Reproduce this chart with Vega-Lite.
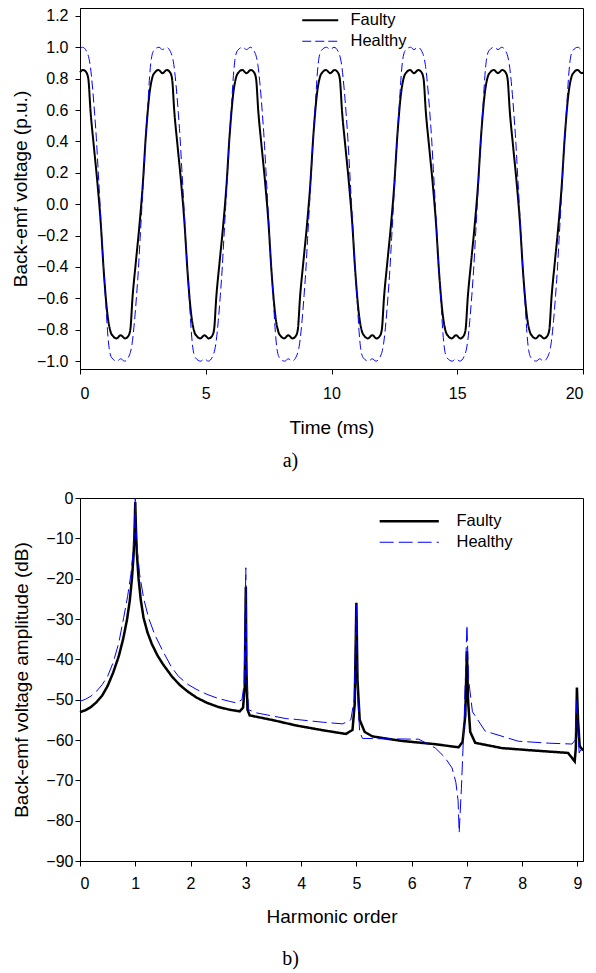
{
"$schema": "https://vega.github.io/schema/vega-lite/v6.json",
"padding": {"left": 10, "top": 7, "right": 8, "bottom": 5},
"bounds": "flush",
"spacing": 129,
"config": {
  "font": "Liberation Sans",
  "view": {"stroke": "#000000", "strokeWidth": 1},
  "axis": {"grid": false, "domainColor": "#000000", "tickColor": "#000000", "labelColor": "#000000", "titleColor": "#000000", "labelFont": "Liberation Sans", "titleFont": "Liberation Sans", "titleFontWeight": "normal", "labelFontSize": 16, "titleFontSize": 19, "tickSize": 5, "labelPadding": 7, "titlePadding": 6},
  "legend": {"orient": "none", "title": null, "labelFont": "Liberation Sans", "labelFontSize": 16.5, "labelColor": "#000000", "padding": 0, "rowPadding": 4}
},
"datasets": {
"wave": [
{"t":0,"v":0.84,"s":"Faulty"},{"t":0.12,"v":0.855,"s":"Faulty"},{"t":0.25,"v":0.84,"s":"Faulty"},{"t":0.33,"v":0.8,"s":"Faulty"},{"t":0.42,"v":0.59,"s":"Faulty"},{"t":0.55,"v":0.37,"s":"Faulty"},{"t":0.69,"v":0.14,"s":"Faulty"},{"t":0.82,"v":-0.11,"s":"Faulty"},{"t":0.95,"v":-0.44,"s":"Faulty"},{"t":1.09,"v":-0.7,"s":"Faulty"},{"t":1.22,"v":-0.815,"s":"Faulty"},{"t":1.31,"v":-0.84,"s":"Faulty"},{"t":1.45,"v":-0.855,"s":"Faulty"},{"t":1.62,"v":-0.835,"s":"Faulty"},{"t":1.79,"v":-0.855,"s":"Faulty"},{"t":1.92,"v":-0.84,"s":"Faulty"},{"t":2.0,"v":-0.8,"s":"Faulty"},{"t":2.09,"v":-0.59,"s":"Faulty"},{"t":2.22,"v":-0.37,"s":"Faulty"},{"t":2.36,"v":-0.14,"s":"Faulty"},{"t":2.49,"v":0.11,"s":"Faulty"},{"t":2.62,"v":0.44,"s":"Faulty"},{"t":2.76,"v":0.7,"s":"Faulty"},{"t":2.89,"v":0.815,"s":"Faulty"},{"t":2.98,"v":0.84,"s":"Faulty"},{"t":3.12,"v":0.855,"s":"Faulty"},
{"t":3.28,"v":0.835,"s":"Faulty"},{"t":3.45,"v":0.855,"s":"Faulty"},{"t":3.58,"v":0.84,"s":"Faulty"},{"t":3.66,"v":0.8,"s":"Faulty"},{"t":3.75,"v":0.59,"s":"Faulty"},{"t":3.88,"v":0.37,"s":"Faulty"},{"t":4.02,"v":0.14,"s":"Faulty"},{"t":4.15,"v":-0.11,"s":"Faulty"},{"t":4.28,"v":-0.44,"s":"Faulty"},{"t":4.42,"v":-0.7,"s":"Faulty"},{"t":4.55,"v":-0.815,"s":"Faulty"},{"t":4.64,"v":-0.84,"s":"Faulty"},{"t":4.78,"v":-0.855,"s":"Faulty"},{"t":4.95,"v":-0.835,"s":"Faulty"},{"t":5.12,"v":-0.855,"s":"Faulty"},{"t":5.25,"v":-0.84,"s":"Faulty"},{"t":5.33,"v":-0.8,"s":"Faulty"},{"t":5.42,"v":-0.59,"s":"Faulty"},{"t":5.55,"v":-0.37,"s":"Faulty"},{"t":5.69,"v":-0.14,"s":"Faulty"},{"t":5.82,"v":0.11,"s":"Faulty"},{"t":5.95,"v":0.44,"s":"Faulty"},{"t":6.09,"v":0.7,"s":"Faulty"},{"t":6.22,"v":0.815,"s":"Faulty"},{"t":6.31,"v":0.84,"s":"Faulty"},{"t":6.45,"v":0.855,"s":"Faulty"},
{"t":6.62,"v":0.835,"s":"Faulty"},{"t":6.79,"v":0.855,"s":"Faulty"},{"t":6.92,"v":0.84,"s":"Faulty"},{"t":7.0,"v":0.8,"s":"Faulty"},{"t":7.09,"v":0.59,"s":"Faulty"},{"t":7.22,"v":0.37,"s":"Faulty"},{"t":7.36,"v":0.14,"s":"Faulty"},{"t":7.49,"v":-0.11,"s":"Faulty"},{"t":7.62,"v":-0.44,"s":"Faulty"},{"t":7.76,"v":-0.7,"s":"Faulty"},{"t":7.89,"v":-0.815,"s":"Faulty"},{"t":7.98,"v":-0.84,"s":"Faulty"},{"t":8.12,"v":-0.855,"s":"Faulty"},{"t":8.28,"v":-0.835,"s":"Faulty"},{"t":8.45,"v":-0.855,"s":"Faulty"},{"t":8.58,"v":-0.84,"s":"Faulty"},{"t":8.66,"v":-0.8,"s":"Faulty"},{"t":8.75,"v":-0.59,"s":"Faulty"},{"t":8.88,"v":-0.37,"s":"Faulty"},{"t":9.02,"v":-0.14,"s":"Faulty"},{"t":9.15,"v":0.11,"s":"Faulty"},{"t":9.28,"v":0.44,"s":"Faulty"},{"t":9.42,"v":0.7,"s":"Faulty"},{"t":9.55,"v":0.815,"s":"Faulty"},{"t":9.64,"v":0.84,"s":"Faulty"},{"t":9.78,"v":0.855,"s":"Faulty"},
{"t":9.95,"v":0.835,"s":"Faulty"},{"t":10.12,"v":0.855,"s":"Faulty"},{"t":10.25,"v":0.84,"s":"Faulty"},{"t":10.33,"v":0.8,"s":"Faulty"},{"t":10.42,"v":0.59,"s":"Faulty"},{"t":10.55,"v":0.37,"s":"Faulty"},{"t":10.69,"v":0.14,"s":"Faulty"},{"t":10.82,"v":-0.11,"s":"Faulty"},{"t":10.95,"v":-0.44,"s":"Faulty"},{"t":11.09,"v":-0.7,"s":"Faulty"},{"t":11.22,"v":-0.815,"s":"Faulty"},{"t":11.31,"v":-0.84,"s":"Faulty"},{"t":11.45,"v":-0.855,"s":"Faulty"},{"t":11.62,"v":-0.835,"s":"Faulty"},{"t":11.79,"v":-0.855,"s":"Faulty"},{"t":11.92,"v":-0.84,"s":"Faulty"},{"t":12.0,"v":-0.8,"s":"Faulty"},{"t":12.09,"v":-0.59,"s":"Faulty"},{"t":12.22,"v":-0.37,"s":"Faulty"},{"t":12.36,"v":-0.14,"s":"Faulty"},{"t":12.49,"v":0.11,"s":"Faulty"},{"t":12.62,"v":0.44,"s":"Faulty"},{"t":12.76,"v":0.7,"s":"Faulty"},{"t":12.89,"v":0.815,"s":"Faulty"},{"t":12.98,"v":0.84,"s":"Faulty"},{"t":13.12,"v":0.855,"s":"Faulty"},
{"t":13.28,"v":0.835,"s":"Faulty"},{"t":13.45,"v":0.855,"s":"Faulty"},{"t":13.58,"v":0.84,"s":"Faulty"},{"t":13.66,"v":0.8,"s":"Faulty"},{"t":13.75,"v":0.59,"s":"Faulty"},{"t":13.88,"v":0.37,"s":"Faulty"},{"t":14.02,"v":0.14,"s":"Faulty"},{"t":14.15,"v":-0.11,"s":"Faulty"},{"t":14.28,"v":-0.44,"s":"Faulty"},{"t":14.42,"v":-0.7,"s":"Faulty"},{"t":14.55,"v":-0.815,"s":"Faulty"},{"t":14.64,"v":-0.84,"s":"Faulty"},{"t":14.78,"v":-0.855,"s":"Faulty"},{"t":14.95,"v":-0.835,"s":"Faulty"},{"t":15.12,"v":-0.855,"s":"Faulty"},{"t":15.25,"v":-0.84,"s":"Faulty"},{"t":15.33,"v":-0.8,"s":"Faulty"},{"t":15.42,"v":-0.59,"s":"Faulty"},{"t":15.55,"v":-0.37,"s":"Faulty"},{"t":15.69,"v":-0.14,"s":"Faulty"},{"t":15.82,"v":0.11,"s":"Faulty"},{"t":15.95,"v":0.44,"s":"Faulty"},{"t":16.09,"v":0.7,"s":"Faulty"},{"t":16.22,"v":0.815,"s":"Faulty"},{"t":16.31,"v":0.84,"s":"Faulty"},{"t":16.45,"v":0.855,"s":"Faulty"},
{"t":16.62,"v":0.835,"s":"Faulty"},{"t":16.79,"v":0.855,"s":"Faulty"},{"t":16.92,"v":0.84,"s":"Faulty"},{"t":17.0,"v":0.8,"s":"Faulty"},{"t":17.09,"v":0.59,"s":"Faulty"},{"t":17.22,"v":0.37,"s":"Faulty"},{"t":17.36,"v":0.14,"s":"Faulty"},{"t":17.49,"v":-0.11,"s":"Faulty"},{"t":17.62,"v":-0.44,"s":"Faulty"},{"t":17.76,"v":-0.7,"s":"Faulty"},{"t":17.89,"v":-0.815,"s":"Faulty"},{"t":17.98,"v":-0.84,"s":"Faulty"},{"t":18.12,"v":-0.855,"s":"Faulty"},{"t":18.28,"v":-0.835,"s":"Faulty"},{"t":18.45,"v":-0.855,"s":"Faulty"},{"t":18.58,"v":-0.84,"s":"Faulty"},{"t":18.66,"v":-0.8,"s":"Faulty"},{"t":18.75,"v":-0.59,"s":"Faulty"},{"t":18.88,"v":-0.37,"s":"Faulty"},{"t":19.02,"v":-0.14,"s":"Faulty"},{"t":19.15,"v":0.11,"s":"Faulty"},{"t":19.28,"v":0.44,"s":"Faulty"},{"t":19.42,"v":0.7,"s":"Faulty"},{"t":19.55,"v":0.815,"s":"Faulty"},{"t":19.64,"v":0.84,"s":"Faulty"},{"t":19.78,"v":0.855,"s":"Faulty"},{"t":19.95,"v":0.835,"s":"Faulty"},{"t":20,"v":0.84,"s":"Faulty"},
{"t":0,"v":0.99,"s":"Healthy"},{"t":0.1,"v":1.0,"s":"Healthy"},{"t":0.3,"v":0.96,"s":"Healthy"},{"t":0.4,"v":0.89,"s":"Healthy"},{"t":0.5,"v":0.74,"s":"Healthy"},{"t":0.58,"v":0.58,"s":"Healthy"},{"t":0.65,"v":0.42,"s":"Healthy"},{"t":0.72,"v":0.22,"s":"Healthy"},{"t":0.79,"v":0.02,"s":"Healthy"},{"t":0.87,"v":-0.22,"s":"Healthy"},{"t":0.95,"v":-0.44,"s":"Healthy"},{"t":1.03,"v":-0.64,"s":"Healthy"},{"t":1.1,"v":-0.82,"s":"Healthy"},{"t":1.17,"v":-0.93,"s":"Healthy"},{"t":1.27,"v":-0.98,"s":"Healthy"},{"t":1.47,"v":-1.0,"s":"Healthy"},{"t":1.62,"v":-0.985,"s":"Healthy"},{"t":1.77,"v":-1.0,"s":"Healthy"},{"t":1.97,"v":-0.96,"s":"Healthy"},{"t":2.07,"v":-0.89,"s":"Healthy"},{"t":2.17,"v":-0.74,"s":"Healthy"},{"t":2.25,"v":-0.58,"s":"Healthy"},{"t":2.32,"v":-0.42,"s":"Healthy"},{"t":2.39,"v":-0.22,"s":"Healthy"},{"t":2.46,"v":-0.02,"s":"Healthy"},{"t":2.54,"v":0.22,"s":"Healthy"},{"t":2.62,"v":0.44,"s":"Healthy"},{"t":2.7,"v":0.64,"s":"Healthy"},{"t":2.77,"v":0.82,"s":"Healthy"},{"t":2.84,"v":0.93,"s":"Healthy"},{"t":2.94,"v":0.98,"s":"Healthy"},{"t":3.14,"v":1.0,"s":"Healthy"},
{"t":3.28,"v":0.985,"s":"Healthy"},{"t":3.43,"v":1.0,"s":"Healthy"},{"t":3.63,"v":0.96,"s":"Healthy"},{"t":3.73,"v":0.89,"s":"Healthy"},{"t":3.83,"v":0.74,"s":"Healthy"},{"t":3.91,"v":0.58,"s":"Healthy"},{"t":3.98,"v":0.42,"s":"Healthy"},{"t":4.05,"v":0.22,"s":"Healthy"},{"t":4.12,"v":0.02,"s":"Healthy"},{"t":4.2,"v":-0.22,"s":"Healthy"},{"t":4.28,"v":-0.44,"s":"Healthy"},{"t":4.36,"v":-0.64,"s":"Healthy"},{"t":4.43,"v":-0.82,"s":"Healthy"},{"t":4.5,"v":-0.93,"s":"Healthy"},{"t":4.6,"v":-0.98,"s":"Healthy"},{"t":4.8,"v":-1.0,"s":"Healthy"},{"t":4.95,"v":-0.985,"s":"Healthy"},{"t":5.1,"v":-1.0,"s":"Healthy"},{"t":5.3,"v":-0.96,"s":"Healthy"},{"t":5.4,"v":-0.89,"s":"Healthy"},{"t":5.5,"v":-0.74,"s":"Healthy"},{"t":5.58,"v":-0.58,"s":"Healthy"},{"t":5.65,"v":-0.42,"s":"Healthy"},{"t":5.72,"v":-0.22,"s":"Healthy"},{"t":5.79,"v":-0.02,"s":"Healthy"},{"t":5.87,"v":0.22,"s":"Healthy"},{"t":5.95,"v":0.44,"s":"Healthy"},{"t":6.03,"v":0.64,"s":"Healthy"},{"t":6.1,"v":0.82,"s":"Healthy"},{"t":6.17,"v":0.93,"s":"Healthy"},{"t":6.27,"v":0.98,"s":"Healthy"},{"t":6.47,"v":1.0,"s":"Healthy"},
{"t":6.62,"v":0.985,"s":"Healthy"},{"t":6.77,"v":1.0,"s":"Healthy"},{"t":6.97,"v":0.96,"s":"Healthy"},{"t":7.07,"v":0.89,"s":"Healthy"},{"t":7.17,"v":0.74,"s":"Healthy"},{"t":7.25,"v":0.58,"s":"Healthy"},{"t":7.32,"v":0.42,"s":"Healthy"},{"t":7.39,"v":0.22,"s":"Healthy"},{"t":7.46,"v":0.02,"s":"Healthy"},{"t":7.54,"v":-0.22,"s":"Healthy"},{"t":7.62,"v":-0.44,"s":"Healthy"},{"t":7.7,"v":-0.64,"s":"Healthy"},{"t":7.77,"v":-0.82,"s":"Healthy"},{"t":7.84,"v":-0.93,"s":"Healthy"},{"t":7.94,"v":-0.98,"s":"Healthy"},{"t":8.14,"v":-1.0,"s":"Healthy"},{"t":8.28,"v":-0.985,"s":"Healthy"},{"t":8.43,"v":-1.0,"s":"Healthy"},{"t":8.63,"v":-0.96,"s":"Healthy"},{"t":8.73,"v":-0.89,"s":"Healthy"},{"t":8.83,"v":-0.74,"s":"Healthy"},{"t":8.91,"v":-0.58,"s":"Healthy"},{"t":8.98,"v":-0.42,"s":"Healthy"},{"t":9.05,"v":-0.22,"s":"Healthy"},{"t":9.12,"v":-0.02,"s":"Healthy"},{"t":9.2,"v":0.22,"s":"Healthy"},{"t":9.28,"v":0.44,"s":"Healthy"},{"t":9.36,"v":0.64,"s":"Healthy"},{"t":9.43,"v":0.82,"s":"Healthy"},{"t":9.5,"v":0.93,"s":"Healthy"},{"t":9.6,"v":0.98,"s":"Healthy"},{"t":9.8,"v":1.0,"s":"Healthy"},
{"t":9.95,"v":0.985,"s":"Healthy"},{"t":10.1,"v":1.0,"s":"Healthy"},{"t":10.3,"v":0.96,"s":"Healthy"},{"t":10.4,"v":0.89,"s":"Healthy"},{"t":10.5,"v":0.74,"s":"Healthy"},{"t":10.58,"v":0.58,"s":"Healthy"},{"t":10.65,"v":0.42,"s":"Healthy"},{"t":10.72,"v":0.22,"s":"Healthy"},{"t":10.79,"v":0.02,"s":"Healthy"},{"t":10.87,"v":-0.22,"s":"Healthy"},{"t":10.95,"v":-0.44,"s":"Healthy"},{"t":11.03,"v":-0.64,"s":"Healthy"},{"t":11.1,"v":-0.82,"s":"Healthy"},{"t":11.17,"v":-0.93,"s":"Healthy"},{"t":11.27,"v":-0.98,"s":"Healthy"},{"t":11.47,"v":-1.0,"s":"Healthy"},{"t":11.62,"v":-0.985,"s":"Healthy"},{"t":11.77,"v":-1.0,"s":"Healthy"},{"t":11.97,"v":-0.96,"s":"Healthy"},{"t":12.07,"v":-0.89,"s":"Healthy"},{"t":12.17,"v":-0.74,"s":"Healthy"},{"t":12.25,"v":-0.58,"s":"Healthy"},{"t":12.32,"v":-0.42,"s":"Healthy"},{"t":12.39,"v":-0.22,"s":"Healthy"},{"t":12.46,"v":-0.02,"s":"Healthy"},{"t":12.54,"v":0.22,"s":"Healthy"},{"t":12.62,"v":0.44,"s":"Healthy"},{"t":12.7,"v":0.64,"s":"Healthy"},{"t":12.77,"v":0.82,"s":"Healthy"},{"t":12.84,"v":0.93,"s":"Healthy"},{"t":12.94,"v":0.98,"s":"Healthy"},{"t":13.14,"v":1.0,"s":"Healthy"},
{"t":13.28,"v":0.985,"s":"Healthy"},{"t":13.43,"v":1.0,"s":"Healthy"},{"t":13.63,"v":0.96,"s":"Healthy"},{"t":13.73,"v":0.89,"s":"Healthy"},{"t":13.83,"v":0.74,"s":"Healthy"},{"t":13.91,"v":0.58,"s":"Healthy"},{"t":13.98,"v":0.42,"s":"Healthy"},{"t":14.05,"v":0.22,"s":"Healthy"},{"t":14.12,"v":0.02,"s":"Healthy"},{"t":14.2,"v":-0.22,"s":"Healthy"},{"t":14.28,"v":-0.44,"s":"Healthy"},{"t":14.36,"v":-0.64,"s":"Healthy"},{"t":14.43,"v":-0.82,"s":"Healthy"},{"t":14.5,"v":-0.93,"s":"Healthy"},{"t":14.6,"v":-0.98,"s":"Healthy"},{"t":14.8,"v":-1.0,"s":"Healthy"},{"t":14.95,"v":-0.985,"s":"Healthy"},{"t":15.1,"v":-1.0,"s":"Healthy"},{"t":15.3,"v":-0.96,"s":"Healthy"},{"t":15.4,"v":-0.89,"s":"Healthy"},{"t":15.5,"v":-0.74,"s":"Healthy"},{"t":15.58,"v":-0.58,"s":"Healthy"},{"t":15.65,"v":-0.42,"s":"Healthy"},{"t":15.72,"v":-0.22,"s":"Healthy"},{"t":15.79,"v":-0.02,"s":"Healthy"},{"t":15.87,"v":0.22,"s":"Healthy"},{"t":15.95,"v":0.44,"s":"Healthy"},{"t":16.03,"v":0.64,"s":"Healthy"},{"t":16.1,"v":0.82,"s":"Healthy"},{"t":16.17,"v":0.93,"s":"Healthy"},{"t":16.27,"v":0.98,"s":"Healthy"},{"t":16.47,"v":1.0,"s":"Healthy"},
{"t":16.62,"v":0.985,"s":"Healthy"},{"t":16.77,"v":1.0,"s":"Healthy"},{"t":16.97,"v":0.96,"s":"Healthy"},{"t":17.07,"v":0.89,"s":"Healthy"},{"t":17.17,"v":0.74,"s":"Healthy"},{"t":17.25,"v":0.58,"s":"Healthy"},{"t":17.32,"v":0.42,"s":"Healthy"},{"t":17.39,"v":0.22,"s":"Healthy"},{"t":17.46,"v":0.02,"s":"Healthy"},{"t":17.54,"v":-0.22,"s":"Healthy"},{"t":17.62,"v":-0.44,"s":"Healthy"},{"t":17.7,"v":-0.64,"s":"Healthy"},{"t":17.77,"v":-0.82,"s":"Healthy"},{"t":17.84,"v":-0.93,"s":"Healthy"},{"t":17.94,"v":-0.98,"s":"Healthy"},{"t":18.14,"v":-1.0,"s":"Healthy"},{"t":18.28,"v":-0.985,"s":"Healthy"},{"t":18.43,"v":-1.0,"s":"Healthy"},{"t":18.63,"v":-0.96,"s":"Healthy"},{"t":18.73,"v":-0.89,"s":"Healthy"},{"t":18.83,"v":-0.74,"s":"Healthy"},{"t":18.91,"v":-0.58,"s":"Healthy"},{"t":18.98,"v":-0.42,"s":"Healthy"},{"t":19.05,"v":-0.22,"s":"Healthy"},{"t":19.12,"v":-0.02,"s":"Healthy"},{"t":19.2,"v":0.22,"s":"Healthy"},{"t":19.28,"v":0.44,"s":"Healthy"},{"t":19.36,"v":0.64,"s":"Healthy"},{"t":19.43,"v":0.82,"s":"Healthy"},{"t":19.5,"v":0.93,"s":"Healthy"},{"t":19.6,"v":0.98,"s":"Healthy"},{"t":19.8,"v":1.0,"s":"Healthy"},{"t":19.95,"v":0.985,"s":"Healthy"},{"t":20,"v":0.99,"s":"Healthy"}
],
"spec": [
{"h":0,"db":-53.1,"s":"Faulty"},{"h":0.1,"db":-52.6,"s":"Faulty"},{"h":0.2,"db":-51.8,"s":"Faulty"},{"h":0.3,"db":-50.6,"s":"Faulty"},{"h":0.4,"db":-49,"s":"Faulty"},{"h":0.5,"db":-46.6,"s":"Faulty"},{"h":0.6,"db":-43.3,"s":"Faulty"},{"h":0.7,"db":-39.3,"s":"Faulty"},{"h":0.78,"db":-35,"s":"Faulty"},{"h":0.85,"db":-30.2,"s":"Faulty"},{"h":0.9,"db":-25.5,"s":"Faulty"},{"h":0.94,"db":-20,"s":"Faulty"},{"h":0.97,"db":-14,"s":"Faulty"},{"h":0.985,"db":-9,"s":"Faulty"},{"h":0.995,"db":-4,"s":"Faulty"},{"h":1.0,"db":-1,"s":"Faulty"},{"h":1.005,"db":-4,"s":"Faulty"},{"h":1.015,"db":-9,"s":"Faulty"},{"h":1.03,"db":-14,"s":"Faulty"},{"h":1.06,"db":-20,"s":"Faulty"},{"h":1.1,"db":-25.3,"s":"Faulty"},{"h":1.15,"db":-29.7,"s":"Faulty"},{"h":1.22,"db":-33.3,"s":"Faulty"},{"h":1.3,"db":-36.2,"s":"Faulty"},{"h":1.4,"db":-39,"s":"Faulty"},{"h":1.5,"db":-41.2,"s":"Faulty"},{"h":1.66,"db":-44.2,"s":"Faulty"},{"h":1.8,"db":-46.3,"s":"Faulty"},{"h":1.95,"db":-48,"s":"Faulty"},{"h":2.11,"db":-49.5,"s":"Faulty"},{"h":2.3,"db":-50.8,"s":"Faulty"},{"h":2.5,"db":-51.8,"s":"Faulty"},{"h":2.71,"db":-52.5,"s":"Faulty"},{"h":2.89,"db":-52.9,"s":"Faulty"},{"h":2.95,"db":-52,"s":"Faulty"},{"h":2.98,"db":-47,"s":"Faulty"},{"h":3.0,"db":-22,"s":"Faulty"},{"h":3.01,"db":-42,"s":"Faulty"},{"h":3.03,"db":-52.5,"s":"Faulty"},{"h":3.07,"db":-53.9,"s":"Faulty"},{"h":3.5,"db":-55.1,"s":"Faulty"},{"h":3.91,"db":-56.4,"s":"Faulty"},{"h":4.4,"db":-57.6,"s":"Faulty"},{"h":4.81,"db":-58.5,"s":"Faulty"},{"h":4.93,"db":-57.5,"s":"Faulty"},{"h":4.97,"db":-51,"s":"Faulty"},{"h":5.0,"db":-26,"s":"Faulty"},{"h":5.02,"db":-45,"s":"Faulty"},{"h":5.06,"db":-55,"s":"Faulty"},{"h":5.15,"db":-58,"s":"Faulty"},{"h":5.29,"db":-59.1,"s":"Faulty"},{"h":5.8,"db":-60.2,"s":"Faulty"},{"h":6.4,"db":-61,"s":"Faulty"},{"h":6.85,"db":-61.8,"s":"Faulty"},{"h":6.92,"db":-60.5,"s":"Faulty"},{"h":6.97,"db":-54,"s":"Faulty"},{"h":7.0,"db":-38,"s":"Faulty"},{"h":7.02,"db":-50,"s":"Faulty"},{"h":7.06,"db":-58,"s":"Faulty"},{"h":7.15,"db":-60.7,"s":"Faulty"},{"h":7.63,"db":-62,"s":"Faulty"},{"h":8.2,"db":-62.6,"s":"Faulty"},{"h":8.83,"db":-63.2,"s":"Faulty"},{"h":8.95,"db":-65.3,"s":"Faulty"},{"h":8.97,"db":-62,"s":"Faulty"},{"h":8.99,"db":-47,"s":"Faulty"},{"h":9.01,"db":-55,"s":"Faulty"},{"h":9.04,"db":-61.5,"s":"Faulty"},{"h":9.1,"db":-62.6,"s":"Faulty"},
{"h":0,"db":-50.4,"s":"Healthy"},{"h":0.1,"db":-49.9,"s":"Healthy"},{"h":0.2,"db":-49.1,"s":"Healthy"},{"h":0.3,"db":-47.9,"s":"Healthy"},{"h":0.4,"db":-46.3,"s":"Healthy"},{"h":0.5,"db":-44.2,"s":"Healthy"},{"h":0.6,"db":-40.8,"s":"Healthy"},{"h":0.7,"db":-36,"s":"Healthy"},{"h":0.79,"db":-29.7,"s":"Healthy"},{"h":0.86,"db":-24.5,"s":"Healthy"},{"h":0.92,"db":-19,"s":"Healthy"},{"h":0.96,"db":-13.5,"s":"Healthy"},{"h":0.985,"db":-8,"s":"Healthy"},{"h":0.996,"db":-3,"s":"Healthy"},{"h":1.0,"db":0,"s":"Healthy"},{"h":1.004,"db":-3,"s":"Healthy"},{"h":1.015,"db":-8,"s":"Healthy"},{"h":1.04,"db":-13.5,"s":"Healthy"},{"h":1.08,"db":-19,"s":"Healthy"},{"h":1.15,"db":-24.8,"s":"Healthy"},{"h":1.24,"db":-29.7,"s":"Healthy"},{"h":1.35,"db":-33.8,"s":"Healthy"},{"h":1.5,"db":-38,"s":"Healthy"},{"h":1.65,"db":-41.8,"s":"Healthy"},{"h":1.78,"db":-44.2,"s":"Healthy"},{"h":1.95,"db":-46.2,"s":"Healthy"},{"h":2.1,"db":-47.4,"s":"Healthy"},{"h":2.3,"db":-48.7,"s":"Healthy"},{"h":2.5,"db":-49.7,"s":"Healthy"},{"h":2.7,"db":-50.4,"s":"Healthy"},{"h":2.83,"db":-50.8,"s":"Healthy"},{"h":2.93,"db":-50,"s":"Healthy"},{"h":2.97,"db":-46,"s":"Healthy"},{"h":3.0,"db":-17.3,"s":"Healthy"},{"h":3.02,"db":-45,"s":"Healthy"},{"h":3.05,"db":-52.5,"s":"Healthy"},{"h":3.2,"db":-53.3,"s":"Healthy"},{"h":3.73,"db":-54.7,"s":"Healthy"},{"h":3.91,"db":-54.9,"s":"Healthy"},{"h":4.4,"db":-55.6,"s":"Healthy"},{"h":4.75,"db":-56,"s":"Healthy"},{"h":4.9,"db":-55,"s":"Healthy"},{"h":4.96,"db":-50,"s":"Healthy"},{"h":5.0,"db":-26.5,"s":"Healthy"},{"h":5.02,"db":-48,"s":"Healthy"},{"h":5.06,"db":-58,"s":"Healthy"},{"h":5.11,"db":-59.6,"s":"Healthy"},{"h":5.5,"db":-59.7,"s":"Healthy"},{"h":6.13,"db":-59.8,"s":"Healthy"},{"h":6.43,"db":-62,"s":"Healthy"},{"h":6.6,"db":-64.3,"s":"Healthy"},{"h":6.73,"db":-66.9,"s":"Healthy"},{"h":6.8,"db":-70.5,"s":"Healthy"},{"h":6.84,"db":-75,"s":"Healthy"},{"h":6.86,"db":-83,"s":"Healthy"},{"h":6.9,"db":-72,"s":"Healthy"},{"h":6.95,"db":-55,"s":"Healthy"},{"h":7.0,"db":-31.5,"s":"Healthy"},{"h":7.03,"db":-45,"s":"Healthy"},{"h":7.1,"db":-53,"s":"Healthy"},{"h":7.33,"db":-57.8,"s":"Healthy"},{"h":7.93,"db":-60.3,"s":"Healthy"},{"h":8.5,"db":-60.8,"s":"Healthy"},{"h":8.9,"db":-61,"s":"Healthy"},{"h":8.96,"db":-60,"s":"Healthy"},{"h":8.99,"db":-50,"s":"Healthy"},{"h":9.01,"db":-58,"s":"Healthy"},{"h":9.03,"db":-63.2,"s":"Healthy"},{"h":9.1,"db":-61.4,"s":"Healthy"}
]
},
"vconcat": [
{
  "width": 503, "height": 361,
  "data": {"name": "wave"},
  "mark": {"type": "line", "interpolate": "monotone"},
  "encoding": {
    "x": {"field": "t", "type": "quantitative", "scale": {"domain": [0, 20], "nice": false}, "axis": {"values": [0, 5, 10, 15, 20], "title": "Time (ms)", "labelPadding": 11, "titlePadding": 17}},
    "y": {"field": "v", "type": "quantitative", "scale": {"domain": [-1.05, 1.25], "nice": false, "zero": false}, "axis": {"values": [-1, -0.8, -0.6, -0.4, -0.2, 0, 0.2, 0.4, 0.6, 0.8, 1, 1.2], "format": ".1f", "title": "Back-emf voltage (p.u.)"}},
    "color": {"field": "s", "type": "nominal", "scale": {"domain": ["Faulty", "Healthy"], "range": ["#000000", "#0000ff"]}, "legend": {"legendX": 232, "legendY": 4, "symbolType": "M-3,0H3", "symbolSize": 144, "labelOffset": 22}},
    "strokeDash": {"field": "s", "type": "nominal", "scale": {"domain": ["Faulty", "Healthy"], "range": [[1, 0], [9, 4]]}, "legend": {"legendX": 232, "legendY": 4, "symbolType": "M-3,0H3", "symbolSize": 144, "labelOffset": 22}},
    "strokeWidth": {"field": "s", "type": "nominal", "scale": {"domain": ["Faulty", "Healthy"], "range": [2, 1]}, "legend": {"legendX": 232, "legendY": 4, "symbolType": "M-3,0H3", "symbolSize": 144, "labelOffset": 22}}
  },
  "title": {"text": "a)", "orient": "bottom", "anchor": "middle", "font": "Liberation Serif", "fontSize": 20, "fontWeight": "normal", "color": "#000000", "offset": 14, "dx": -41}
},
{
  "width": 503, "height": 363,
  "data": {"name": "spec"},
  "mark": {"type": "line"},
  "encoding": {
    "x": {"field": "h", "type": "quantitative", "scale": {"domain": [0, 9.1], "nice": false}, "axis": {"values": [0, 1, 2, 3, 4, 5, 6, 7, 8, 9], "title": "Harmonic order", "labelPadding": 9, "titlePadding": 16}},
    "y": {"field": "db", "type": "quantitative", "scale": {"domain": [-90, 0], "nice": false}, "axis": {"values": [-90, -80, -70, -60, -50, -40, -30, -20, -10, 0], "title": "Back-emf voltage amplitude (dB)", "labelPadding": 2, "titlePadding": 14}},
    "color": {"field": "s", "type": "nominal", "scale": {"domain": ["Faulty", "Healthy"], "range": ["#000000", "#0000ff"]}, "legend": {"legendX": 321, "legendY": 15, "symbolType": "M-5,0H5", "symbolSize": 140, "labelOffset": 39}},
    "strokeDash": {"field": "s", "type": "nominal", "scale": {"domain": ["Faulty", "Healthy"], "range": [[1, 0], [14, 5]]}, "legend": {"legendX": 321, "legendY": 15, "symbolType": "M-5,0H5", "symbolSize": 140, "labelOffset": 39}},
    "strokeWidth": {"field": "s", "type": "nominal", "scale": {"domain": ["Faulty", "Healthy"], "range": [2.5, 1]}, "legend": {"legendX": 321, "legendY": 15, "symbolType": "M-5,0H5", "symbolSize": 140, "labelOffset": 39}}
  },
  "title": {"text": "b)", "orient": "bottom", "anchor": "middle", "font": "Liberation Serif", "fontSize": 20, "fontWeight": "normal", "color": "#000000", "offset": 23, "dx": -41}
}
],
"resolve": {"scale": {"color": "independent", "strokeDash": "independent", "strokeWidth": "independent"}, "legend": {"color": "independent", "strokeDash": "independent", "strokeWidth": "independent"}}
}
